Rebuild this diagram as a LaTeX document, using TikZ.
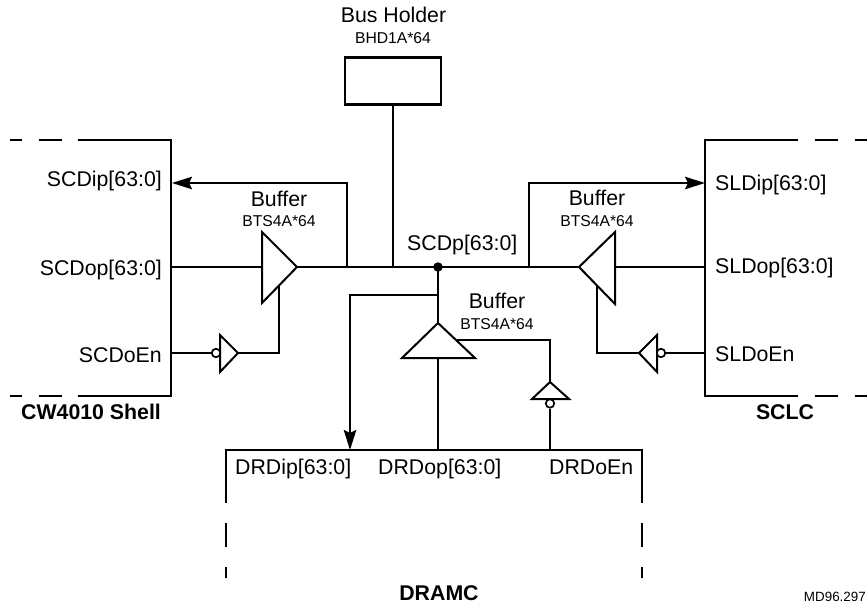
\documentclass[tikz,border=0pt]{standalone}
\usepackage{fontspec}
\setmainfont{Liberation Sans}
\usetikzlibrary{arrows.meta}
\tikzset{
  wire/.style={line width=2pt,line cap=butt,line join=miter},
  outline/.style={line width=2.2pt,line cap=butt,line join=miter},
  dashpart/.style={line width=2pt},
  gate/.style={line width=2pt,line join=miter,fill=white},
  flow/.style={wire,-{Stealth[length=20pt,width=12.5pt,inset=3pt]}},
  bubble/.style={circle,draw,line width=1.7pt,fill=white,inner sep=0pt,minimum size=8.5pt},
  dotnode/.style={circle,fill=black,inner sep=0pt,minimum size=9.5pt},
  lab/.style={font=\fontsize{21.3}{23}\selectfont,inner sep=0pt},
  sub/.style={font=\fontsize{15.7}{17}\selectfont,inner sep=0pt},
  title/.style={font=\fontsize{21.3}{23}\selectfont\bfseries,inner sep=0pt},
  tiny/.style={font=\fontsize{13.4}{15}\selectfont,inner sep=0pt}
}
\begin{document}
\begin{tikzpicture}[x=1pt,y=-1pt]
\useasboundingbox (0,0) rectangle (867,604);
% named points
\coordinate (LT) at (171,140); \coordinate (LB) at (171,396);
\coordinate (RT) at (705,140); \coordinate (RB) at (705,396);
\coordinate (DL) at (226,450); \coordinate (DR) at (642,450);
\coordinate (J) at (438,267);
\coordinate (Jleft) at (347,267); \coordinate (Jright) at (529,267); \coordinate (Jtop) at (393,267);
\coordinate (LIP) at (172,183); \coordinate (LIPc) at (347,183);
\coordinate (RIP) at (705,183); \coordinate (RIPc) at (529,183);
\coordinate (LOP) at (171,267); \coordinate (ROP) at (705,267);
\coordinate (LEN) at (171,353); \coordinate (REN) at (705,353);
% left buffer
\coordinate (BLa) at (262,232); \coordinate (BLb) at (262,303); \coordinate (BLo) at (297,267);
\coordinate (BLe) at (279,285); \coordinate (BLc) at (279,353);
\coordinate (ILa) at (220,335); \coordinate (ILb) at (220,372); \coordinate (ILo) at (238,353);
% right buffer
\coordinate (BRa) at (615,232); \coordinate (BRb) at (615,304); \coordinate (BRo) at (579,267);
\coordinate (BRe) at (597,286); \coordinate (BRc) at (597,353);
\coordinate (IRa) at (657,335); \coordinate (IRb) at (657,372); \coordinate (IRo) at (639,353);
% centre buffer
\coordinate (BCa) at (402,358); \coordinate (BCb) at (475,358); \coordinate (BCo) at (438,323);
\coordinate (BCi) at (438,358); \coordinate (BCe) at (457,340); \coordinate (BCc) at (550,340);
\coordinate (ICa) at (532,399); \coordinate (ICb) at (569,399); \coordinate (ICo) at (550,382);
\coordinate (BrA) at (438,295); \coordinate (BrB) at (350,295);
\coordinate (DIP) at (350,450); \coordinate (DOP) at (438,450); \coordinate (DEN) at (550,450);

% holder
\node[draw,outline,minimum width=96pt,minimum height=47pt,inner sep=0pt] (holder) at (393,81) {};
\draw[wire] (holder.south) -- (Jtop);

% wires
\draw[wire] (LOP) -- (BLa |- LOP);
\draw[wire] (BLo) -- (BRo);
\draw[wire] (BRa |- ROP) -- (ROP);
\draw[flow] (Jleft) -- (LIPc) -- (LIP);
\draw[flow] (Jright) -- (RIPc) -- (RIP);
\draw[wire] (BLe) -- (BLc) -- (ILo);
\draw[wire] (BRe) -- (BRc) -- (IRo);
\draw[wire] (J) -- (BCo);
\draw[flow] (BrA) -- (BrB) -- (DIP);
\draw[wire] (BCi) -- (DOP);
\draw[wire] (BCe) -- (BCc) -- (ICo);

% gates
\draw[gate] (BLa) -- (BLo) -- (BLb) -- cycle;
\draw[gate] (BRa) -- (BRo) -- (BRb) -- cycle;
\draw[gate] (BCa) -- (BCo) -- (BCb) -- cycle;
\draw[gate] (ILa) -- (ILo) -- (ILb) -- cycle;
\draw[gate] (IRa) -- (IRo) -- (IRb) -- cycle;
\draw[gate] (ICa) -- (ICo) -- (ICb) -- cycle;

\node[bubble] (bl) at (216,353) {};
\node[bubble] (br) at (661,353) {};
\node[bubble] (bc) at (550,403.5) {};
\draw[wire] (LEN) -- (bl.west);
\draw[wire] (REN) -- (br.east);
\draw[wire] (bc.south) -- (DEN);
\node[dotnode] (jdot) at (J) {};

% block outlines
\draw[outline] (78,140) -- (LT) -- (LB) -- (78,396);
\draw[dashpart] (10,140) -- (22,140) (39,140) -- (62,140) (10,396) -- (22,396) (39,396) -- (62,396);
\draw[outline] (798,140) -- (RT) -- (RB) -- (798,396);
\draw[dashpart] (815,140) -- (838,140) (855,140) -- (867,140) (815,396) -- (838,396) (855,396) -- (867,396);
\draw[outline] (226,503) -- (DL) -- (DR) -- (642,503);
\draw[dashpart] (226,523) -- (226,547) (226,567) -- (226,578) (642,523) -- (642,547) (642,567) -- (642,578);

% labels
\node[lab,anchor=base] (tbh) at (393.5,23) {Bus Holder};
\node[sub,anchor=base] (tbh2) at (393,44) {BHD1A*64};
\node[lab,anchor=base east] (t1) at (162,186) {SCDip[63:0]};
\node[lab,anchor=base east] (t2) at (162,275) {SCDop[63:0]};
\node[lab,anchor=base east] (t3) at (162,362) {SCDoEn};
\node[title,anchor=base west] (t4) at (21,419) {CW4010 Shell};
\node[lab,anchor=base] (t5) at (279,207) {Buffer};
\node[sub,anchor=base] (t6) at (279,226) {BTS4A*64};
\node[lab,anchor=base] (t7) at (597,206) {Buffer};
\node[sub,anchor=base] (t8) at (597,226) {BTS4A*64};
\node[lab,anchor=base] (t9) at (497,308) {Buffer};
\node[sub,anchor=base] (t10) at (497,329) {BTS4A*64};
\node[lab,anchor=base west] (t11) at (407,251) {SCDp[63:0]};
\node[lab,anchor=base west] (t12) at (715,191) {SLDip[63:0]};
\node[lab,anchor=base west] (t13) at (715,273) {SLDop[63:0]};
\node[lab,anchor=base west] (t14) at (715,361) {SLDoEn};
\node[title,anchor=base] (t15) at (785,419) {SCLC};
\node[lab,anchor=base west] (t16) at (235,474) {DRDip[63:0]};
\node[lab,anchor=base west] (t17) at (378,474) {DRDop[63:0]};
\node[lab,anchor=base west] (t18) at (549,474) {DRDoEn};
\node[title,anchor=base] (t19) at (439,600) {DRAMC};
\node[tiny,anchor=base east] (t20) at (866,601) {MD96.297};
\end{tikzpicture}
\end{document}
